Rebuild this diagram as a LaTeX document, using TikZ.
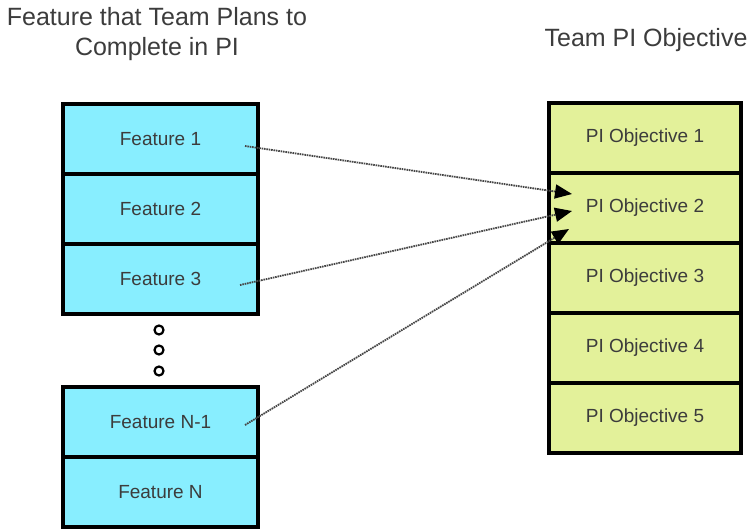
\documentclass[tikz,border=0pt]{standalone}
\usepackage{fontspec}
\setmainfont{Liberation Sans}
\usetikzlibrary{arrows.meta}
\definecolor{featfill}{RGB}{136,238,255}
\definecolor{objfill}{RGB}{227,241,154}
\definecolor{txt}{RGB}{60,60,60}
\definecolor{conn}{RGB}{70,70,70}
\tikzset{
  box/.style={draw=black, line width=4pt, minimum height=70pt, inner sep=0pt, text=txt, font=\fontsize{19}{22}\selectfont},
  featbox/.style={box, fill=featfill, minimum width=195pt},
  objbox/.style={box, fill=objfill, minimum width=192pt},
  title/.style={text=txt, font=\fontsize{25}{30}\selectfont, align=center},
  dotc/.style={draw=black, line width=2.2pt, circle, minimum size=9pt, inner sep=0pt},
  link/.style={draw=conn, line width=1.8pt, dash pattern=on 1.6pt off 0.8pt, -{Triangle[length=17pt,width=14pt,color=black,fill=black]}}
}
\begin{document}
\begin{tikzpicture}[x=1pt,y=1pt]
\useasboundingbox (0,0) rectangle (751,531);
% titles
\node[title] (t1) at (157,497) {Feature that Team Plans to\\Complete in PI};
\node[title] (t2) at (646,491) {Team PI Objective};
% feature boxes
\node[featbox] (f1) at (160.5,392) {Feature 1};
\node[featbox] (f2) at (160.5,322) {Feature 2};
\node[featbox] (f3) at (160.5,252) {Feature 3};
\node[featbox] (fn1) at (160.5,109) {Feature N-1};
\node[featbox] (fn) at (160.5,39) {Feature N};
% dots
\node[dotc] (d1) at (159,201) {};
\node[dotc] (d2) at (159,181) {};
\node[dotc] (d3) at (159,160) {};
% objective boxes
\node[objbox] (o1) at (645,393) {PI Objective 1};
\node[objbox] (o2) at (645,323) {PI Objective 2};
\node[objbox] (o3) at (645,253) {PI Objective 3};
\node[objbox] (o4) at (645,183) {PI Objective 4};
\node[objbox] (o5) at (645,113) {PI Objective 5};
% connectors
\draw[link] ([xshift=-15pt,yshift=-7pt]f1.east) -- ([xshift=25pt,yshift=14pt]o2.west);
\draw[link] ([xshift=-20pt,yshift=-6pt]f3.east) -- ([xshift=25pt,yshift=-3pt]o2.west);
\draw[link] ([xshift=-15pt,yshift=-3pt]fn1.east) -- ([xshift=22pt,yshift=-21pt]o2.west);
\end{tikzpicture}
\end{document}
